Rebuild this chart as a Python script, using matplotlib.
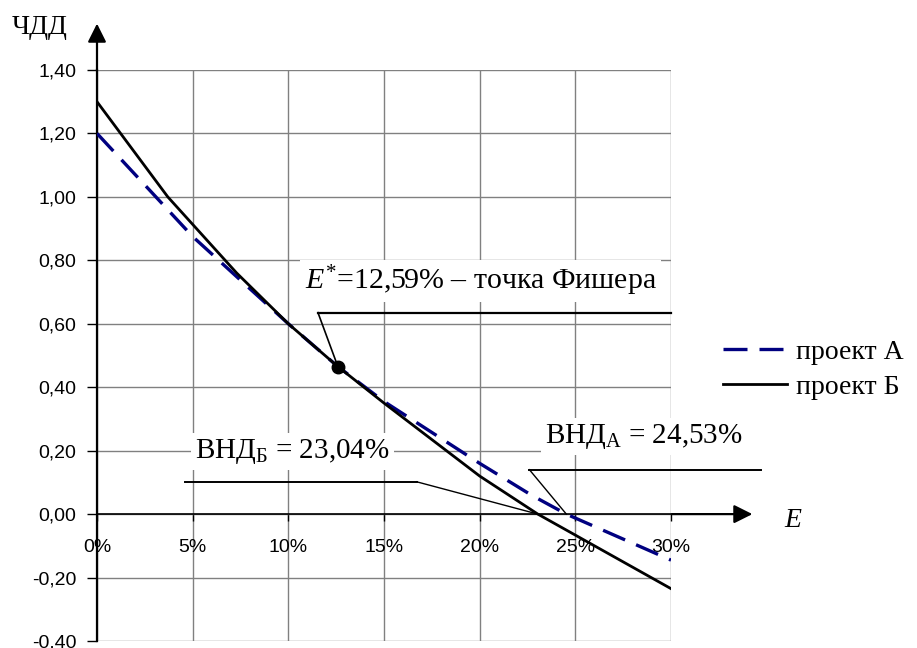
import matplotlib
matplotlib.use("Agg")
from matplotlib import pyplot as plt
from matplotlib import font_manager

# Discount rate (%) and NPV for both projects.
rates_a = [0, 5, 10, 12.59, 15, 20, 22.7, 24.53, 30]
npv_a = [1.20, 0.875, 0.60, 0.465, 0.355, 0.16, 0.06, 0.00, -0.145]

rates_b = [0, 3.7, 7.3, 10, 12.59, 15, 20, 23.04, 30]
npv_b = [1.30, 1.00, 0.76, 0.60, 0.465, 0.35, 0.12, 0.00, -0.235]

fisher_rate, fisher_npv = 12.59, 0.465
irr_a, irr_b = 24.53, 23.04

x_ticks = [0, 5, 10, 15, 20, 25, 30]
x_labels = ['0%', '5%', '10%', '15%', '20%', '25%', '30%']
y_ticks = [-0.40, -0.20, 0.00, 0.20, 0.40, 0.60, 0.80, 1.00, 1.20, 1.40]
y_labels = ['-0,40', '-0,20', '0,00', '0,20', '0,40', '0,60', '0,80', '1,00', '1,20', '1,40']

serif = 'Liberation Serif'
names = {f.name for f in font_manager.fontManager.ttflist}
tick_font = 'Liberation Sans Narrow' if 'Liberation Sans Narrow' in names else 'Liberation Sans'

plt.rcParams['mathtext.fontset'] = 'custom'
plt.rcParams['mathtext.rm'] = serif
plt.rcParams['mathtext.it'] = serif + ':italic'

fig = plt.figure(figsize=(9.17, 6.48), dpi=100)
ax = fig.add_axes([97 / 917, 7 / 648, 574 / 917, 571 / 648])
ax.set_xlim(0, 30)
ax.set_ylim(-0.40, 1.40)

# Axes lines first (set_position resets the ticks).
for s in ['top', 'right']:
    ax.spines[s].set_visible(False)
ax.spines['left'].set_color('black')
ax.spines['left'].set_linewidth(1.6)
ax.spines['bottom'].set_position(('data', 0))
ax.spines['bottom'].set_color('black')
ax.spines['bottom'].set_linewidth(1.2)

# Grid and ticks.
ax.set_xticks(x_ticks)
ax.set_xticklabels(x_labels, fontname=tick_font, fontsize=14)
ax.set_yticks(y_ticks)
ax.set_yticklabels(y_labels, fontname=tick_font, fontsize=14)
ax.grid(True, color='#808080', linewidth=1.0)
ax.tick_params(axis='y', direction='out', length=7, width=1, pad=8)
ax.tick_params(axis='x', direction='out', length=5, width=1, pad=13)
ax.set_axisbelow(True)

# Curves.
ax.plot(rates_a, npv_a, color='#000080', linewidth=2.4, dashes=(7.2, 3.6),
        label='проект А', zorder=4)
ax.plot(rates_b, npv_b, color='black', linewidth=2.0, label='проект Б', zorder=5)
ax.plot([fisher_rate], [fisher_npv], 'o', color='black', markersize=9, zorder=6)

# Axis arrows.
ax.annotate('', xy=(34.4, 0), xytext=(29.9, 0), annotation_clip=False,
            arrowprops=dict(arrowstyle='-|>', color='black', lw=1.6, mutation_scale=28))
ax.annotate('', xy=(0, 1.555), xytext=(0, 1.39), annotation_clip=False,
            arrowprops=dict(arrowstyle='-|>', color='black', lw=1.6, mutation_scale=28))
ax.text(-4.45, 1.535, 'ЧДД', fontname=serif, fontsize=20, ha='left', va='center',
        clip_on=False)
ax.text(35.9, -0.015, '$E$', fontsize=20, ha='left', va='center', clip_on=False)

# Fisher point callout.
ax.plot([11.55, 30], [0.635, 0.635], color='black', linewidth=1.6, clip_on=False, zorder=3)
ax.plot([11.55, fisher_rate], [0.635, fisher_npv], color='black', linewidth=1.2, zorder=3)
ax.text(20.05, 0.735, '$E^{*}$=12,59% – точка Фишера', fontname=serif, fontsize=21.5,
        ha='center', va='center', zorder=3,
        bbox=dict(facecolor='white', edgecolor='none', pad=3))

# IRR callouts.
ax.plot([4.6, 16.7], [0.102, 0.102], color='black', linewidth=1.4, zorder=3)
ax.plot([16.7, irr_b], [0.102, 0.0], color='black', linewidth=1.0, zorder=3)
ax.text(10.2, 0.197, 'ВНД$_{\\mathrm{Б}}$ = 23,04%', fontname=serif, fontsize=21,
        ha='center', va='center', zorder=3,
        bbox=dict(facecolor='white', edgecolor='none', pad=3))

ax.plot([22.6, 34.7], [0.14, 0.14], color='black', linewidth=1.4, clip_on=False, zorder=3)
ax.plot([22.6, irr_a], [0.14, 0.0], color='black', linewidth=1.0, zorder=3)
ax.text(28.6, 0.245, 'ВНД$_{\\mathrm{А}}$ = 24,53%', fontname=serif, fontsize=21,
        ha='center', va='center', zorder=3, clip_on=False,
        bbox=dict(facecolor='white', edgecolor='none', pad=3))

# Legend.
leg = ax.legend(loc='center left', bbox_to_anchor=(1.072, 0.475), frameon=False,
                prop={'family': serif, 'size': 20}, handlelength=2.3,
                handletextpad=0.3, labelspacing=0.35, borderaxespad=0)

fig.savefig('out.png', dpi=100)
